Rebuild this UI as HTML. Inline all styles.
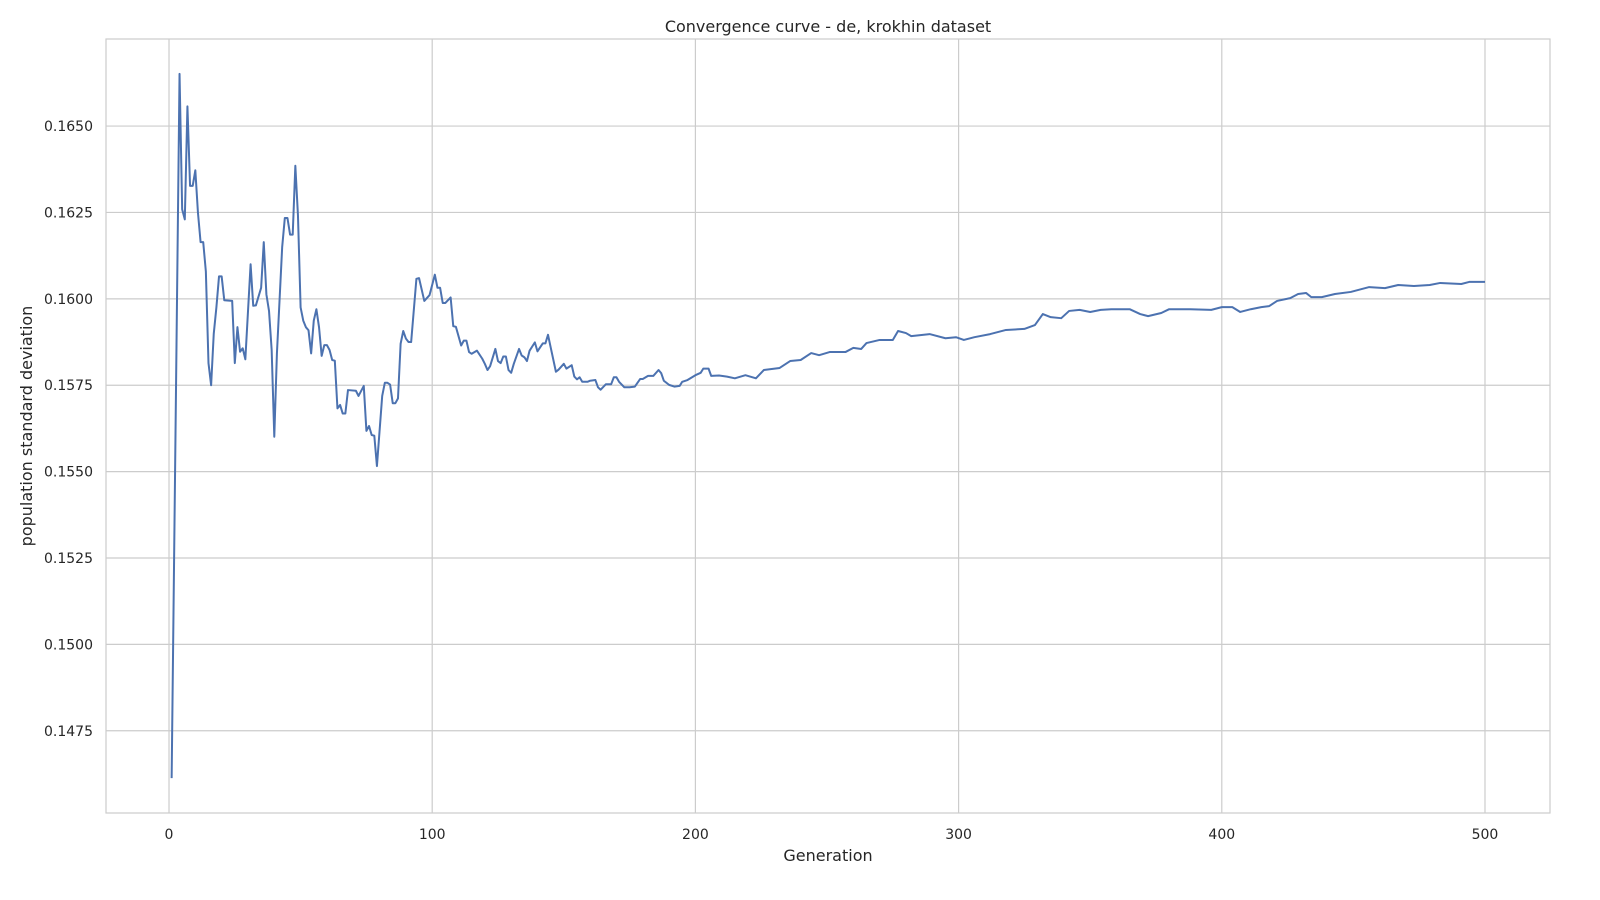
<!DOCTYPE html>
<html><head><meta charset="utf-8">
<style>
html,body{margin:0;padding:0;background:#fff;}
svg{display:block;font-family:"DejaVu Sans","Liberation Sans",sans-serif;}
</style></head>
<body>
<svg id="chart" width="1600" height="900" viewBox="0 0 1600 900">
  <rect x="0" y="0" width="1600" height="900" fill="#fff"/>
  <g id="grid"></g>
  <rect x="106" y="39" width="1444" height="774" fill="none" stroke="#cccccc" stroke-width="1.2"/>
  <g id="xticks"></g>
  <g id="yticks"></g>
  <path id="series" fill="none" stroke="#4c72b0" stroke-width="2" stroke-linejoin="round"/>
  <text x="828" y="32" text-anchor="middle" font-size="16" fill="#262626">Convergence curve - de, krokhin dataset</text>
  <text x="828" y="861" text-anchor="middle" font-size="16" fill="#262626">Generation</text>
  <text x="32" y="426" text-anchor="middle" font-size="16" fill="#262626" transform="rotate(-90 32 426)">population standard deviation</text>
</svg>
<script>
const xTickValues = [0, 100, 200, 300, 400, 500];
const yTickValues = [0.1475, 0.1500, 0.1525, 0.1550, 0.1575, 0.1600, 0.1625, 0.1650];
const generations = [1,4,5,6,7,8,9,10,11,12,13,14,15,16,17,18,19,20,21,24,25,26,27,28,29,31,32,33,35,36,37,38,39,40,41,43,44,45,46,47,48,49,50,51,52,53,54,55,56,57,58,59,60,61,62,63,64,65,66,67,68,71,72,74,75,76,77,78,79,81,82,83,84,85,86,87,88,89,90,91,92,94,95,97,99,
101,102,103,104,105,107,108,109,111,112,113,114,115,117,119,120,121,122,124,125,126,127,128,129,130,131,133,134,135,136,137,139,140,142,143,144,145,147,148,150,151,153,154,155,156,157,159,160,162,163,164,166,168,169,170,171,173,175,177,179,180,182,184,186,187,188,190,192,194,195,197,200,202,203,205,206,209,212,
215,219,223,226,232,236,240,244,247,251,257,260,263,265,270,275,277,280,282,289,295,299,302,306,312,318,325,329,332,335,339,342,346,350,354,358,365,369,372,377,380,388,396,400,404,407,411,415,418,421,426,429,432,434,438,443,449,456,462,467,473,479,483,491,494,500];
const stdValues = [0.14613,0.16651,0.16259,0.16230,0.16557,0.16327,0.16327,0.16372,0.16249,0.16164,0.16164,0.16079,0.15814,0.15750,0.15899,0.15975,0.16065,0.16065,0.15996,0.15994,0.15814,0.15918,0.15847,0.15857,0.15825,0.16100,0.15980,0.15981,0.16032,0.16164,0.16013,0.15965,0.15852,0.15601,0.15842,0.16150,0.16234,0.16234,0.16186,0.16186,0.16385,0.16240,0.15975,0.15937,0.15918,0.15909,0.15842,0.15937,0.15970,0.15918,0.15835,0.15866,0.15866,0.15852,0.15823,0.15821,0.15683,0.15693,0.15668,0.15668,0.15736,0.15734,0.15719,0.15748,0.15618,0.15632,0.15606,0.15604,0.15516,0.15719,0.15757,0.15757,0.15752,0.15698,0.15698,0.15712,0.15870,0.15907,0.15885,0.15875,0.15875,0.16058,0.16060,0.15994,0.16011,
0.16070,0.16032,0.16032,0.15988,0.15988,0.16004,0.15921,0.15919,0.15865,0.15879,0.15879,0.15846,0.15841,0.15850,0.15827,0.15812,0.15794,0.15805,0.15855,0.15820,0.15814,0.15833,0.15833,0.15794,0.15786,0.15812,0.15855,0.15836,0.15831,0.15820,0.15850,0.15874,0.15848,0.15871,0.15871,0.15896,0.15860,0.15789,0.15795,0.15812,0.15798,0.15808,0.15775,0.15767,0.15773,0.15760,0.15760,0.15763,0.15765,0.15744,0.15737,0.15753,0.15753,0.15773,0.15773,0.15760,0.15744,0.15744,0.15746,0.15768,0.15768,0.15777,0.15777,0.15794,0.15785,0.15763,0.15751,0.15746,0.15748,0.15760,0.15765,0.15779,0.15786,0.15798,0.15798,0.15777,0.15778,0.15775,
0.15770,0.15779,0.15770,0.15794,0.15800,0.15820,0.15823,0.15843,0.15837,0.15846,0.15846,0.15858,0.15855,0.15872,0.15881,0.15881,0.15907,0.15901,0.15892,0.15898,0.15886,0.15889,0.15881,0.15889,0.15898,0.15910,0.15913,0.15924,0.15956,0.15947,0.15944,0.15965,0.15968,0.15962,0.15968,0.15970,0.15970,0.15956,0.15950,0.15959,0.15970,0.15970,0.15968,0.15976,0.15976,0.15962,0.15970,0.15976,0.15979,0.15994,0.16002,0.16014,0.16017,0.16005,0.16005,0.16014,0.16020,0.16034,0.16031,0.16040,0.16037,0.16040,0.16046,0.16043,0.16049,0.16049];

const PL = 106, PR = 1550, PT = 39, PB = 813;
const XMIN = -23.94, XMAX = 524.7, YMIN = 0.14512, YMAX = 0.16752;
function xScale(v){ return PL + (v - XMIN) / (XMAX - XMIN) * (PR - PL); }
function yScale(v){ return PB - (v - YMIN) / (YMAX - YMIN) * (PB - PT); }
const NS = 'http://www.w3.org/2000/svg';
const grid = document.getElementById('grid');
const xt = document.getElementById('xticks');
const yt = document.getElementById('yticks');
xTickValues.forEach(v => {
  const x = xScale(v);
  const l = document.createElementNS(NS, 'line');
  l.setAttribute('x1', x); l.setAttribute('x2', x); l.setAttribute('y1', PT); l.setAttribute('y2', PB);
  l.setAttribute('stroke', '#cccccc'); l.setAttribute('stroke-width', '1.2');
  
  
  grid.appendChild(l);
  const t = document.createElementNS(NS, 'text');
  t.setAttribute('x', x); t.setAttribute('y', 839); t.setAttribute('text-anchor', 'middle');
  t.setAttribute('font-size', '14'); t.setAttribute('fill', '#262626');
  t.textContent = String(v);
  
  
  xt.appendChild(t);
});
yTickValues.forEach(v => {
  const y = yScale(v);
  const l = document.createElementNS(NS, 'line');
  l.setAttribute('x1', PL); l.setAttribute('x2', PR); l.setAttribute('y1', y); l.setAttribute('y2', y);
  l.setAttribute('stroke', '#cccccc'); l.setAttribute('stroke-width', '1.2');
  
  
  grid.appendChild(l);
  const t = document.createElementNS(NS, 'text');
  t.setAttribute('x', 93); t.setAttribute('y', y + 5); t.setAttribute('text-anchor', 'end');
  t.setAttribute('font-size', '14'); t.setAttribute('fill', '#262626');
  t.textContent = v.toFixed(4);
  
  
  yt.appendChild(t);
});
let d = '';
generations.forEach((g, i) => {
  d += (i ? 'L' : 'M') + xScale(g).toFixed(2) + ' ' + yScale(stdValues[i]).toFixed(2);
});
document.getElementById('series').setAttribute('d', d);
</script>
</body></html>
